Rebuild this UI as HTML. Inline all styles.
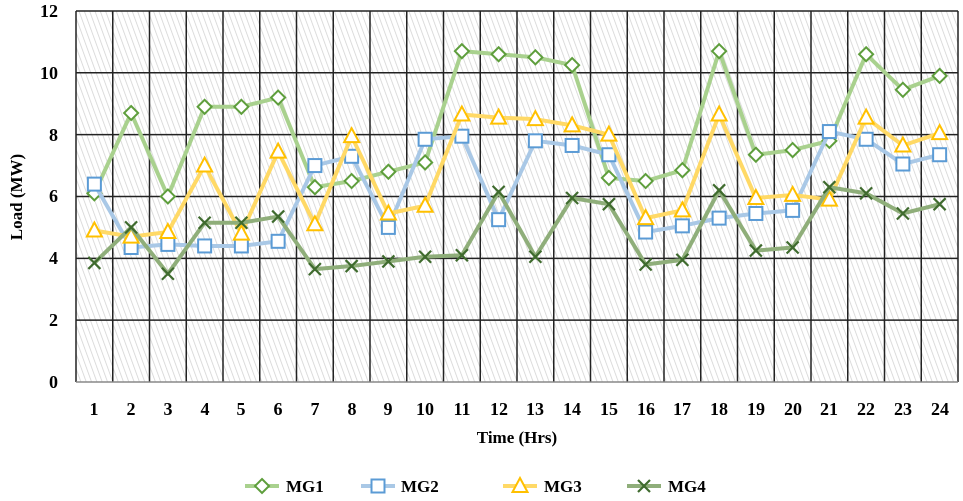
<!DOCTYPE html>
<html><head><meta charset="utf-8"><style>
body{margin:0;background:#fff;width:963px;height:496px;overflow:hidden}
text{font-family:"Liberation Serif",serif;font-weight:bold;fill:#000}
</style></head><body>
<svg id="s" width="963" height="496" viewBox="0 0 963 496">
<defs>
<pattern id="h" width="5" height="5" patternUnits="userSpaceOnUse" patternTransform="rotate(-20)">
<rect width="5" height="5" fill="#fff"/><line x1="0" y1="0" x2="0" y2="5" stroke="#d4d4d4" stroke-width="1.6"/>
</pattern>
</defs>
<rect x="76" y="11" width="882" height="371" fill="url(#h)"/>
<g id="grid" stroke="#222" stroke-width="1.5"></g>
<g font-size="18" text-anchor="end">
<text x="58" y="388">0</text><text x="58" y="326">2</text><text x="58" y="264">4</text>
<text x="58" y="202">6</text><text x="58" y="141">8</text><text x="58" y="79">10</text><text x="58" y="17">12</text>
</g>
<g font-size="18" text-anchor="middle">
<text x="94" y="415">1</text><text x="131" y="415">2</text><text x="168" y="415">3</text><text x="205" y="415">4</text>
<text x="241" y="415">5</text><text x="278" y="415">6</text><text x="315" y="415">7</text><text x="352" y="415">8</text>
<text x="388" y="415">9</text><text x="425" y="415">10</text><text x="462" y="415">11</text><text x="499" y="415">12</text>
<text x="535" y="415">13</text><text x="572" y="415">14</text><text x="609" y="415">15</text><text x="646" y="415">16</text>
<text x="682" y="415">17</text><text x="719" y="415">18</text><text x="756" y="415">19</text><text x="793" y="415">20</text>
<text x="829" y="415">21</text><text x="866" y="415">22</text><text x="903" y="415">23</text><text x="940" y="415">24</text>
<text x="517" y="443" font-size="17">Time (Hrs)</text>
<text transform="translate(22,197) rotate(-90)" font-size="17">Load (MW)</text>
</g>
<g id="series"></g>
<g id="legend" font-size="17">
<text x="286" y="492">MG1</text><text x="401" y="492">MG2</text><text x="544" y="492">MG3</text><text x="668" y="492">MG4</text>
</g>
</svg>
<script>
var NS="http://www.w3.org/2000/svg";
function el(p,t,a){var e=document.createElementNS(NS,t);for(var k in a)e.setAttribute(k,a[k]);p.appendChild(e);return e;}
var g=document.getElementById('grid');
for(var i=0;i<=24;i++){var x=76+36.75*i;el(g,'line',{x1:x,y1:11,x2:x,y2:382});}
for(var v=0;v<=12;v+=2){var y=382-30.92*v;el(g,'line',{x1:76,y1:y,x2:958,y2:y,stroke:v==0?'#888':'#222'});}
var D=[
[6.1,8.7,6.0,8.9,8.9,9.2,6.3,6.5,6.8,7.1,10.7,10.6,10.5,10.25,6.6,6.5,6.85,10.7,7.35,7.5,7.8,10.6,9.45,9.9],
[6.4,4.35,4.45,4.4,4.4,4.55,7.0,7.3,5.0,7.85,7.95,5.25,7.8,7.65,7.35,4.85,5.05,5.3,5.45,5.55,8.1,7.85,7.05,7.35],
[4.9,4.7,4.85,7.0,4.8,7.45,5.1,7.95,5.45,5.7,8.65,8.55,8.5,8.3,8.0,5.3,5.55,8.65,5.95,6.05,5.9,8.55,7.65,8.05],
[3.85,5.0,3.5,5.15,5.15,5.35,3.65,3.75,3.9,4.05,4.1,6.15,4.05,5.95,5.75,3.8,3.95,6.2,4.25,4.35,6.3,6.1,5.45,5.75]];
var LC=['#a9d18e','#a9c8e6','#ffd966','#8fae7a'],MC=['#5e9e3c','#5b9bd5','#ffc000','#3f6b2e'];
var s=document.getElementById('series');
function mk(p,k,x,y){
 if(k==0)el(p,'polygon',{points:(x)+','+(y-7)+' '+(x+7)+','+y+' '+x+','+(y+7)+' '+(x-7)+','+y,fill:'#fff',stroke:MC[k],'stroke-width':2});
 else if(k==1)el(p,'rect',{x:x-6.5,y:y-6.5,width:13,height:13,fill:'#fff',stroke:MC[k],'stroke-width':2});
 else if(k==2)el(p,'polygon',{points:x+','+(y-8)+' '+(x+7.5)+','+(y+6)+' '+(x-7.5)+','+(y+6),fill:'#fff',stroke:MC[k],'stroke-width':2});
 else{el(p,'path',{d:'M'+(x-6)+' '+(y-6)+'L'+(x+6)+' '+(y+6)+'M'+(x+6)+' '+(y-6)+'L'+(x-6)+' '+(y+6),stroke:MC[k],'stroke-width':2.2});}
}
for(var k=0;k<4;k++){
 var pts=D[k].map(function(v,i){return [76+36.75*(i+0.5),382-30.92*v];});
 el(s,'polyline',{points:pts.map(function(p){return p.join(',')}).join(' '),fill:'none',stroke:LC[k],'stroke-width':4,'stroke-linejoin':'round'});
 pts.forEach(function(p){mk(s,k,p[0],p[1]);});
}
var lg=document.getElementById('legend');
var LX=[245,361,503,627];
for(var k=0;k<4;k++){el(lg,'line',{x1:LX[k],y1:486,x2:LX[k]+34,y2:486,stroke:LC[k],'stroke-width':4});mk(lg,k,LX[k]+17,486);}
</script>
</body></html>
